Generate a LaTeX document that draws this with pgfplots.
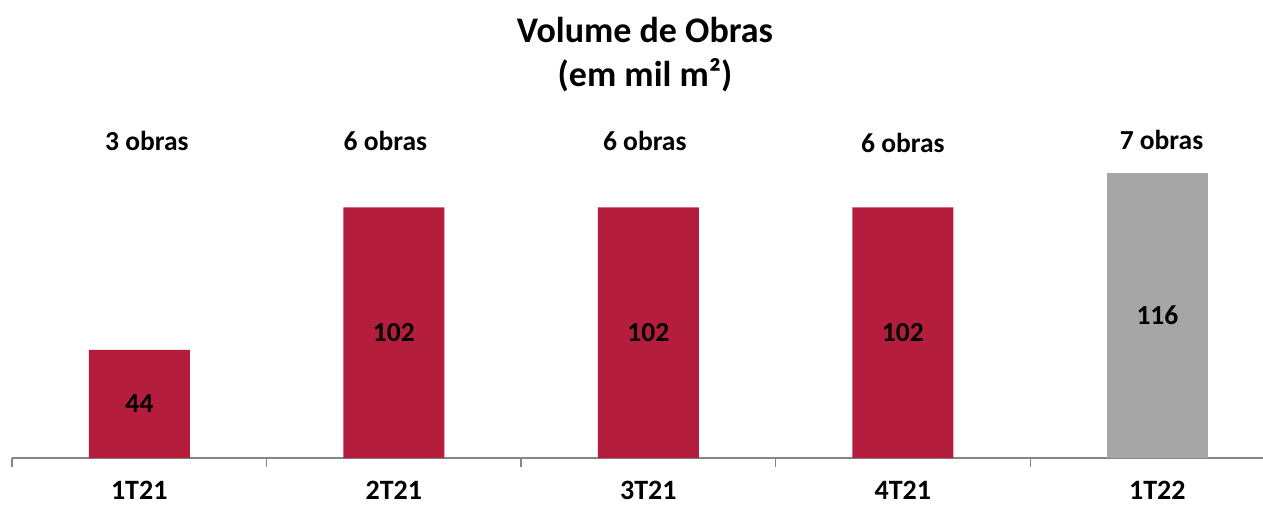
\documentclass[border=0pt]{standalone}
\usepackage{pgfplots}
\pgfplotsset{compat=1.18}
\usepackage{fontspec}
\setmainfont{Carlito}
\definecolor{barred}{RGB}{180,30,60}
\definecolor{bargray}{RGB}{166,166,166}
\definecolor{axisgray}{RGB}{134,134,134}
\begin{document}
\begin{tikzpicture}
\path[use as bounding box] (0,0) rectangle (1263pt,504pt);
\begin{axis}[
  at={(12pt,46pt)}, anchor=south west,
  scale only axis, width=1251pt, height=285pt,
  xmin=-0.5, xmax=4.415, ymin=0, ymax=116,
  clip=false,
  axis y line=none, axis x line*=bottom,
  x axis line style={axisgray, line width=1.2pt},
  xtick={0,1,2,3,4},
  xticklabels={1T21,2T21,3T21,4T21,1T22},
  major tick length=0pt,
  extra x ticks={-0.5,0.5,1.5,2.5,3.5},
  extra x tick labels={},
  extra x tick style={major tick length=9pt, tick align=outside, tick style={axisgray, line width=1.2pt}},
  xticklabel style={anchor=base, yshift=-41pt, font=\fontsize{28}{33}\selectfont\bfseries},
  ybar, bar width=101pt,
  every node near coord/.append style={anchor=center, font=\fontsize{27.5}{33}\selectfont\bfseries, text=black},
]
\addplot[fill=barred, draw=none, bar shift=0pt] coordinates {(0,44) (1,102) (2,102) (3,102)};
\addplot[fill=bargray, draw=none, bar shift=0pt] coordinates {(4,116)};
\addplot[only marks, mark=none, bar shift=0pt, nodes near coords, point meta=explicit symbolic]
  coordinates {(0,22)[44] (1,51)[102] (2,51)[102] (3,51)[102] (4,58)[116]};
\addplot[only marks, mark=none, bar shift=0pt, nodes near coords, point meta=explicit symbolic]
  coordinates {(0.03,129)[3 obras] (0.967,129)[6 obras] (1.986,129)[6 obras] (3,128.2)[6 obras] (4.016,129.4)[7 obras]};
\end{axis}
\node[font=\fontsize{36}{42}\selectfont\bfseries] at (645pt,474pt) {Volume de Obras};
\node[font=\fontsize{36}{42}\selectfont\bfseries] at (645pt,429pt) {(em mil m²)};
\end{tikzpicture}
\end{document}
